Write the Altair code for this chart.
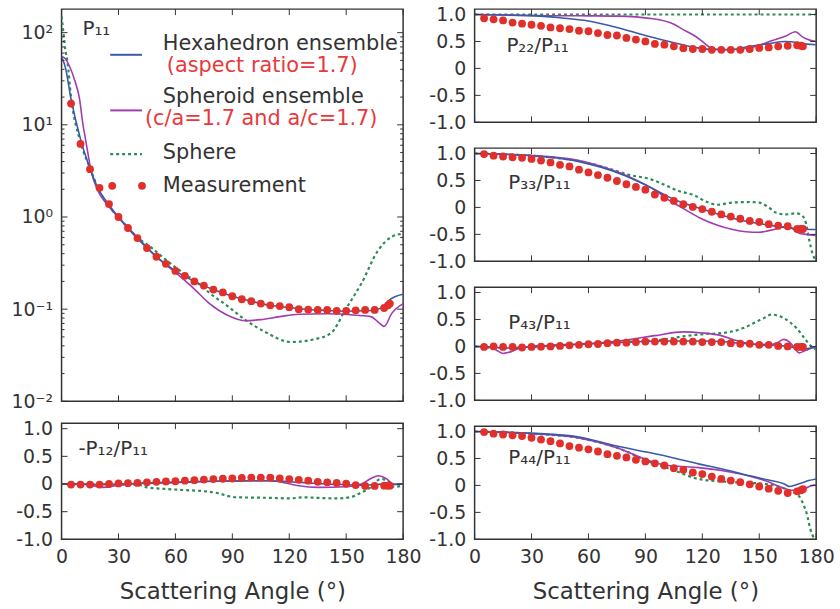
import altair as alt
import pandas as pd

# ---------------- data ----------------
ANG_MEAS = [5, 10, 15, 20, 25, 30, 35, 40, 45, 50, 55, 60, 65, 70, 75, 80, 85, 90,
            95, 100, 105, 110, 115, 120, 125, 130, 135, 140, 145, 150, 155, 160, 165, 170, 172, 173]

P11_MEAS = [17, 6.2, 3.3, 2.07, 1.38, 1.0, 0.76, 0.59, 0.46, 0.37, 0.31, 0.26, 0.23, 0.20, 0.18,
            0.163, 0.152, 0.138, 0.128, 0.122, 0.115, 0.11, 0.108, 0.105, 0.1, 0.099, 0.098, 0.098,
            0.096, 0.096, 0.097, 0.098, 0.098, 0.103, 0.11, 0.115]
P12_MEAS = [-0.01, -0.01, -0.01, -0.01, 0.0, 0.01, 0.015, 0.02, 0.03, 0.04, 0.045, 0.05, 0.06, 0.07,
            0.08, 0.09, 0.095, 0.1, 0.11, 0.115, 0.115, 0.115, 0.1, 0.09, 0.075, 0.06, 0.04, 0.03,
            0.02, 0.005, -0.02, -0.035, -0.035, -0.03, -0.03, -0.03]
P22_MEAS = [0.93, 0.91, 0.89, 0.85, 0.83, 0.81, 0.79, 0.76, 0.745, 0.73, 0.70, 0.69, 0.655, 0.62,
            0.61, 0.565, 0.535, 0.50, 0.455, 0.44, 0.41, 0.376, 0.36, 0.36, 0.345, 0.345, 0.345,
            0.345, 0.36, 0.38, 0.39, 0.41, 0.42, 0.43, 0.42, 0.41]
P33_MEAS = [0.99, 0.96, 0.945, 0.93, 0.92, 0.9, 0.87, 0.835, 0.79, 0.76, 0.70, 0.65, 0.60, 0.55,
            0.49, 0.43, 0.38, 0.33, 0.24, 0.18, 0.12, 0.06, 0.01, -0.03, -0.08, -0.13, -0.17,
            -0.21, -0.25, -0.27, -0.31, -0.34, -0.35, -0.4, -0.4, -0.4]
P43_MEAS = [-0.01, 0, -0.01, -0.01, -0.02, -0.01, -0.005, 0, 0.01, 0.02, 0.03, 0.04, 0.045, 0.06,
            0.07, 0.07, 0.08, 0.09, 0.09, 0.09, 0.09, 0.09, 0.09, 0.08, 0.08, 0.08, 0.06, 0.05,
            0.05, 0.03, 0.03, 0.01, 0, -0.01, -0.01, -0.01]
P44_MEAS = [0.99, 0.96, 0.945, 0.93, 0.915, 0.885, 0.85, 0.82, 0.78, 0.73, 0.70, 0.67, 0.63, 0.58,
            0.55, 0.52, 0.475, 0.445, 0.41, 0.37, 0.32, 0.29, 0.24, 0.21, 0.165, 0.12, 0.09, 0.06,
            0.02, -0.02, -0.06, -0.1, -0.14, -0.11, -0.09, -0.07]

# P11 curves
P11_HEX_A = [0, 2, 5, 10, 14, 19, 25, 30, 35, 40, 50, 60, 70, 80, 90, 100, 110, 120, 130, 140,
             150, 160, 165, 170, 172, 176, 180]
P11_HEX_V = [55, 42, 19, 7.0, 3.8, 2.1, 1.35, 1.0, 0.77, 0.6, 0.37, 0.26, 0.2, 0.163, 0.138,
             0.122, 0.11, 0.104, 0.099, 0.097, 0.095, 0.096, 0.098, 0.108, 0.122, 0.137, 0.145]
P11_SPH_A = [0, 2, 4, 7, 9.5, 11, 13, 15.5, 19, 22.5, 26, 30, 40, 50, 60, 70, 78, 88, 97, 105,
             115, 125, 140, 155, 163, 167, 170, 174, 180]
P11_SPH_V = [55, 52, 44, 30, 19, 11, 6.3, 3.2, 1.95, 1.5, 1.22, 0.98, 0.58, 0.37, 0.25, 0.165,
             0.115, 0.085, 0.075, 0.077, 0.083, 0.088, 0.089, 0.086, 0.083, 0.072, 0.065, 0.09, 0.115]
P11_SPHERE_A = [0, 1, 2, 3, 5, 10, 15, 20, 25, 30, 40, 47, 56, 65, 72, 78, 88, 97, 107, 121,
                133, 142, 149.5, 158, 167, 174, 180]
P11_SPHERE_V = [150, 100, 65, 50, 20, 6.5, 3.4, 1.9, 1.3, 1.0, 0.6, 0.47, 0.33, 0.24, 0.19, 0.15,
                0.106, 0.076, 0.057, 0.044, 0.047, 0.055, 0.098, 0.19, 0.44, 0.61, 0.66]

# -P12/P11 curves
P12_HEX_A = [0, 10, 20, 30, 40, 50, 60, 70, 80, 90, 100, 110, 120, 130, 140, 150, 155, 160, 165,
             170, 175, 180]
P12_HEX_V = [0, 0, -0.01, 0, 0.01, 0.02, 0.03, 0.04, 0.05, 0.055, 0.06, 0.06, 0.04, 0.02, 0,
             -0.01, -0.02, -0.02, -0.01, 0, -0.01, 0]
P12_SPH_A = [0, 10, 15, 22, 30, 40, 60, 80, 100, 110, 118, 125, 135, 150, 158, 163, 167, 171,
             175, 180]
P12_SPH_V = [0, 0, -0.02, -0.06, -0.02, 0.01, 0.03, 0.05, 0.06, 0.06, 0.02, -0.03, -0.06, -0.05,
             0, 0.1, 0.15, 0.1, 0, 0]
P12_SPHERE_A = [0, 40, 45, 55, 65, 75, 83, 88, 92, 100, 110, 120, 128, 135, 145, 152, 157, 163,
                168, 172, 175, 180]
P12_SPHERE_V = [0, -0.01, -0.06, -0.09, -0.11, -0.13, -0.17, -0.22, -0.24, -0.245, -0.25, -0.26,
                -0.24, -0.25, -0.26, -0.24, -0.17, -0.06, 0.09, 0.06, -0.05, -0.03]

# P22/P11 curves
P22_HEX_A = [0, 30, 45, 60, 75, 90, 104, 116, 125, 135, 145, 154, 164, 170, 175, 180]
P22_HEX_V = [1.0, 0.98, 0.94, 0.88, 0.76, 0.61, 0.485, 0.39, 0.35, 0.345, 0.41, 0.455, 0.5,
             0.48, 0.45, 0.44]
P22_SPH_A = [0, 30, 60, 75, 94, 105, 110, 115.7, 120, 122.6, 126, 135, 145, 150, 157, 164, 169,
             173, 177, 180]
P22_SPH_V = [1.0, 0.98, 0.975, 0.97, 0.92, 0.82, 0.72, 0.61, 0.5, 0.425, 0.36, 0.35, 0.38, 0.43,
             0.52, 0.6, 0.68, 0.58, 0.52, 0.5]
P22_SPHERE_A = [0, 180]
P22_SPHERE_V = [1.0, 1.0]

# P33/P11 curves
P33_HEX_A = [0, 20, 40, 55, 67, 80, 90, 102, 110, 119, 128, 136, 145, 154, 163, 171, 180]
P33_HEX_V = [1.0, 0.98, 0.93, 0.85, 0.74, 0.58, 0.42, 0.2, 0.08, -0.02, -0.12, -0.2, -0.27,
             -0.32, -0.37, -0.4, -0.41]
P33_SPH_A = [0, 20, 40, 55, 67, 75, 82, 90, 96, 103, 110, 119, 128, 136, 143, 150, 155, 159,
             164, 168, 171, 175, 180]
P33_SPH_V = [1.0, 0.98, 0.94, 0.87, 0.76, 0.66, 0.56, 0.42, 0.3, 0.12, -0.02, -0.2, -0.33, -0.41,
             -0.45, -0.46, -0.43, -0.4, -0.35, -0.4, -0.48, -0.5, -0.52]
P33_SPHERE_A = [0, 20, 40, 55, 68, 82, 93, 100, 108, 115.5, 122.5, 128, 136, 145, 150, 155, 159,
                164, 169.5, 172, 174, 176.5, 178, 180]
P33_SPHERE_V = [1.0, 0.98, 0.93, 0.86, 0.75, 0.6, 0.52, 0.42, 0.3, 0.23, 0.1, 0.05, 0.09, 0.1,
                0.09, 0.0, -0.1, -0.13, -0.11, -0.14, -0.22, -0.63, -0.85, -1.0]

# P43/P11 curves
P43_HEX_A = [0, 10, 15, 20, 28, 40, 60, 80, 100, 110, 120, 130, 140, 150, 160, 165, 170, 173,
             177, 180]
P43_HEX_V = [0, -0.01, -0.03, -0.03, -0.01, 0.02, 0.05, 0.08, 0.1, 0.1, 0.1, 0.09, 0.06, 0.04,
             0.02, 0.0, -0.03, -0.05, -0.03, -0.02]
P43_SPH_A = [0, 8, 12, 15, 18, 24, 30, 45, 60, 80, 95, 110, 120, 130, 137, 145, 155, 160, 163,
             166, 169, 171, 174, 177, 180]
P43_SPH_V = [0, -0.01, -0.08, -0.13, -0.11, -0.03, 0, 0.02, 0.05, 0.12, 0.2, 0.27, 0.25, 0.2,
             0.12, 0.05, 0.02, 0.08, 0.13, 0.08, -0.05, -0.12, -0.08, -0.04, 0]
P43_SPHERE_A = [0, 15, 30, 45, 60, 75, 90, 100, 108.5, 115.5, 120.7, 127.7, 134.7, 141.6, 146.9,
                152.1, 156.5, 162.6, 169.6, 173.9, 177.4, 180]
P43_SPHERE_V = [0, -0.03, -0.01, 0.02, 0.05, 0.08, 0.1, 0.13, 0.18, 0.21, 0.23, 0.24, 0.27, 0.34,
                0.43, 0.52, 0.59, 0.53, 0.34, 0.15, 0.0, -0.06]

# P44/P11 curves
P44_HEX_A = [0, 30, 55, 75, 92, 105, 118, 130, 145, 155, 163, 166, 171, 176, 180]
P44_HEX_V = [1.0, 0.97, 0.9, 0.73, 0.61, 0.51, 0.4, 0.31, 0.18, 0.1, 0.03, -0.02, 0.03, 0.09, 0.12]
P44_SPH_A = [0, 30, 55, 75, 92, 100, 110, 118, 136, 145, 153, 162, 167, 171, 174, 177, 180]
P44_SPH_V = [1.0, 0.96, 0.88, 0.7, 0.46, 0.38, 0.35, 0.33, 0.24, 0.17, 0.09, -0.04, -0.09, -0.08,
             -0.06, -0.01, 0.01]
P44_SPHERE_A = [0, 30, 55, 75, 92, 105, 118, 136, 153, 160, 166, 171, 173, 175, 177, 179, 180]
P44_SPHERE_V = [1.0, 0.96, 0.88, 0.7, 0.44, 0.28, 0.12, 0.06, 0.03, -0.02, -0.1, -0.2, -0.33,
                -0.52, -0.82, -0.98, -1.0]

X_TICKS = [0, 30, 60, 90, 120, 150, 180]
Y_TICKS = [-1.0, -0.5, 0.0, 0.5, 1.0]
LOG_MAJOR = [0.01, 0.1, 1, 10, 100]
LOG_MINOR = [m * d for d in [0.01, 0.1, 1, 10, 100] for m in range(2, 10) if m * d < 180]

# ---------------- style ----------------
BLUE = "#3a5aa8"
PURPLE = "#a03cb0"
GREEN = "#2e8b57"
RED = "#e1302b"
LRED = "#e8393c"
TXT = "#333333"
FONT = "DejaVu Sans"
W = 344


def df(a, v):
    return pd.DataFrame({"a": a, "v": v})


def panel(hexa, sph, sphere, meas, h, label, lpos, log=False, bottom=False, legend=False):
    xscale = alt.Scale(domain=[0, 180], nice=False, zero=False)
    if bottom:
        xaxis = alt.Axis(values=X_TICKS, format="d", title="Scattering Angle (°)",
                         labelFontSize=19, titleFontSize=23, titleFontWeight="normal",
                         labelPadding=8, titlePadding=15, labelFlush=False, labelOverlap=False)
    else:
        xaxis = None
    if log:
        yscale = alt.Scale(type="log", domain=[0.01, 180], nice=False)
        yaxis = alt.Axis(values=LOG_MAJOR, title=None, labelFontSize=19, labelPadding=9,
                         labelExpr="datum.value >= 50 ? '10²' : datum.value >= 5 ? '10¹' : "
                                   "datum.value >= 0.5 ? '10⁰' : datum.value >= 0.05 ? '10⁻¹' : '10⁻²'")
    else:
        yscale = alt.Scale(domain=[-1, 1.1], nice=False, zero=False)
        yaxis = alt.Axis(values=Y_TICKS, title=None, labelFontSize=19, labelPadding=9,
                         labelExpr="datum.value == 0 ? '0' : (datum.value < 0 ? '-' : '') + "
                                   "format(abs(datum.value), '.1f')")
    X = alt.X("a:Q", scale=xscale, axis=xaxis)
    Y = alt.Y("v:Q", scale=yscale, axis=yaxis)

    layers = []
    layers.append(alt.Chart(df(*sphere)).mark_line(color=GREEN, strokeWidth=2.2, strokeDash=[3, 3],
                                                   interpolate="monotone", clip=True).encode(x=X, y=Y))
    layers.append(alt.Chart(df(*sph)).mark_line(color=PURPLE, strokeWidth=1.6,
                                                interpolate="monotone", clip=True).encode(x=X, y=Y))
    layers.append(alt.Chart(df(*hexa)).mark_line(color=BLUE, strokeWidth=1.6,
                                                 interpolate="monotone", clip=True).encode(x=X, y=Y))
    layers.append(alt.Chart(df(ANG_MEAS, meas)).mark_circle(color=RED, size=62, opacity=1)
                  .encode(x=X, y=Y))

    # inward ticks on all four sides
    xt = pd.DataFrame({"a": X_TICKS})
    layers.append(alt.Chart(xt).mark_rule(color=TXT, strokeWidth=1)
                  .encode(x=X, y=alt.value(h), y2=alt.value(h - 6)))
    layers.append(alt.Chart(xt).mark_rule(color=TXT, strokeWidth=1)
                  .encode(x=X, y=alt.value(0), y2=alt.value(6)))
    if log:
        tick_sets = [(LOG_MAJOR, 6), (LOG_MINOR, 3)]
    else:
        tick_sets = [(Y_TICKS, 6)]
    for vals, size in tick_sets:
        yt = pd.DataFrame({"v": vals})
        layers.append(alt.Chart(yt).mark_rule(color=TXT, strokeWidth=1)
                      .encode(y=Y, x=alt.value(0), x2=alt.value(size)))
        layers.append(alt.Chart(yt).mark_rule(color=TXT, strokeWidth=1)
                      .encode(y=Y, x=alt.value(W), x2=alt.value(W - size)))

    # panel label
    layers.append(alt.Chart(pd.DataFrame({"t": [label]}))
                  .mark_text(align="left", baseline="middle", fontSize=20, font=FONT, color=TXT)
                  .encode(x=alt.value(lpos[0]), y=alt.value(lpos[1]), text="t:N"))

    if legend:
        one = pd.DataFrame({"k": [0]})
        for yy, col, dash in [(46, BLUE, None), (102, PURPLE, None), (146, GREEN, [3, 3])]:
            kw = dict(color=col, strokeWidth=2)
            if dash:
                kw["strokeDash"] = dash
                kw["strokeWidth"] = 2.2
            layers.append(alt.Chart(one).mark_rule(**kw)
                          .encode(x=alt.value(49), x2=alt.value(81), y=alt.value(yy)))
        for xx in [51, 81]:
            layers.append(alt.Chart(one).mark_circle(color=RED, size=62, opacity=1)
                          .encode(x=alt.value(xx), y=alt.value(178)))
        texts = [("Hexahedron ensemble", 102, 35, TXT),
                 ("(aspect ratio=1.7)", 106, 57, LRED),
                 ("Spheroid ensemble", 102, 89, TXT),
                 ("(c/a=1.7 and a/c=1.7)", 84, 111, LRED),
                 ("Sphere", 102, 145, TXT),
                 ("Measurement", 102, 178, TXT)]
        for t, xx, yy, col in texts:
            layers.append(alt.Chart(pd.DataFrame({"t": [t]}))
                          .mark_text(align="left", baseline="middle", fontSize=21, font=FONT, color=col)
                          .encode(x=alt.value(xx), y=alt.value(yy), text="t:N"))

    return alt.layer(*layers).properties(width=W, height=h)


p11 = panel((P11_HEX_A, P11_HEX_V), (P11_SPH_A, P11_SPH_V), (P11_SPHERE_A, P11_SPHERE_V),
            P11_MEAS, 395, "P₁₁", (21, 20), log=True, legend=True)
p12 = panel((P12_HEX_A, P12_HEX_V), (P12_SPH_A, P12_SPH_V), (P12_SPHERE_A, P12_SPHERE_V),
            P12_MEAS, 117, "-P₁₂/P₁₁", (17, 26), bottom=True)
p22 = panel((P22_HEX_A, P22_HEX_V), (P22_SPH_A, P22_SPH_V), (P22_SPHERE_A, P22_SPHERE_V),
            P22_MEAS, 114, "P₂₂/P₁₁", (32, 37))
p33 = panel((P33_HEX_A, P33_HEX_V), (P33_SPH_A, P33_SPH_V), (P33_SPHERE_A, P33_SPHERE_V),
            P33_MEAS, 114, "P₃₃/P₁₁", (34, 35))
p43 = panel((P43_HEX_A, P43_HEX_V), (P43_SPH_A, P43_SPH_V), (P43_SPHERE_A, P43_SPHERE_V),
            P43_MEAS, 114, "P₄₃/P₁₁", (34, 36))
p44 = panel((P44_HEX_A, P44_HEX_V), (P44_SPH_A, P44_SPH_V), (P44_SPHERE_A, P44_SPHERE_V),
            P44_MEAS, 114, "P₄₄/P₁₁", (34, 32), bottom=True)

left = alt.vconcat(p11, p12, spacing=22, bounds="flush")
right = alt.vconcat(p22, p33, p43, p44, spacing=26, bounds="flush")

chart = (alt.hconcat(left, right, spacing=6)
         .properties(padding={"left": 10, "top": 2, "right": 5, "bottom": 5}, background="white")
         .configure_view(stroke=TXT, strokeWidth=1.5)
         .configure_axis(labelFont=FONT, titleFont=FONT, labelColor=TXT, titleColor=TXT,
                         grid=False, domain=False, ticks=False))

chart.save("out.html", embed_options={"renderer": "svg", "actions": False})
